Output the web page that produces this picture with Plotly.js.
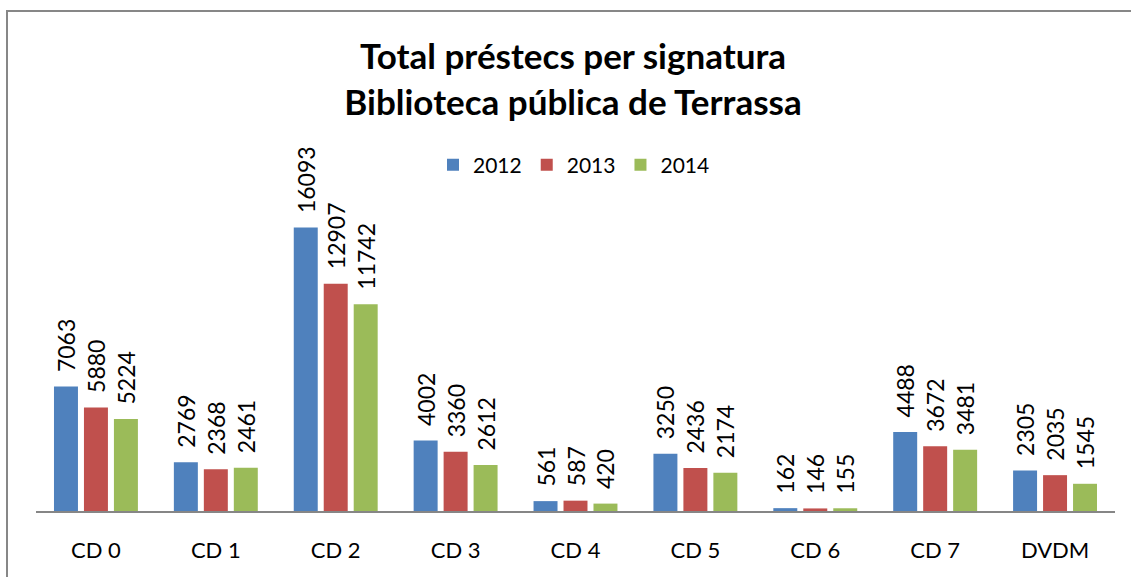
<!DOCTYPE html>
<html><head><meta charset="utf-8">
<script src="https://cdn.plot.ly/plotly-3.0.1.min.js"></script>
<style>
html,body{margin:0;padding:0;background:#fff;}
#wrap{position:relative;width:1131px;height:577px;overflow:hidden;}
#chart{position:absolute;left:0;top:0;width:1131px;height:577px;}
#frame{position:absolute;left:6px;top:10px;width:1140px;height:600px;border-left:2px solid #878787;border-top:2px solid #878787;pointer-events:none;}
</style></head>
<body><div id="wrap"><div id="chart"></div><div id="frame"></div></div>
<script>
const categories = ["CD 0","CD 1","CD 2","CD 3","CD 4","CD 5","CD 6","CD 7","DVDM"];
const v2012 = [7063,2769,16093,4002,561,3250,162,4488,2305];
const v2013 = [5880,2368,12907,3360,587,2436,146,3672,2035];
const v2014 = [5224,2461,11742,2612,420,2174,155,3481,1545];
const seriesNames = ["2012","2013","2014"];
const colors = ["#4F81BD","#C0504D","#9BBB59"];
const FONT = "Lato, 'Open Sans', sans-serif";
const vals = [v2012, v2013, v2014];
const traces = vals.map((v,i)=>({
  type:"bar", x:categories, y:v, name:seriesNames[i],
  marker:{color:colors[i]},
  text:v.map(String), texttemplate:"\u2060\u2002\u2060%{text}", textposition:"outside", textangle:-90,
  constraintext:"none", cliponaxis:false,
  textfont:{family:FONT,size:23,color:"#000"},
  hoverinfo:"x+y"
}));
const layout = {
  width:1131, height:577,
  margin:{l:36,r:16,t:194.4,b:66},
  paper_bgcolor:"#fff", plot_bgcolor:"rgba(0,0,0,0)",
  barmode:"group", bargap:0.25, bargroupgap:0.2,
  font:{family:FONT,color:"#000"},
  title:{text:"<b>Total préstecs per signatura<br>Biblioteca pública de Terrassa</b>",
    font:{family:FONT,size:35,color:"#000"}, x:573/1131, xanchor:"center",
    y:1-69/577, yanchor:"top", xref:"container", yref:"container"},
  legend:{orientation:"h", x:574/1131, xanchor:"center", y:1-165/577, yanchor:"middle",
    xref:"container", yref:"container",
    font:{family:FONT,size:21,color:"#000"}, itemwidth:30, tracegroupgap:0},
  xaxis:{showline:true, linecolor:"#868686", linewidth:2, ticks:"outside", ticklen:19,
    tickcolor:"rgba(0,0,0,0)", tickfont:{family:FONT,size:22,color:"#000"},
    showgrid:false, zeroline:false, fixedrange:true},
  yaxis:{range:[0,18000], visible:false, showgrid:false, zeroline:false, fixedrange:true},
  showlegend:true
};
Plotly.newPlot("chart", traces, layout, {displayModeBar:false, staticPlot:true});
</script></body></html>
